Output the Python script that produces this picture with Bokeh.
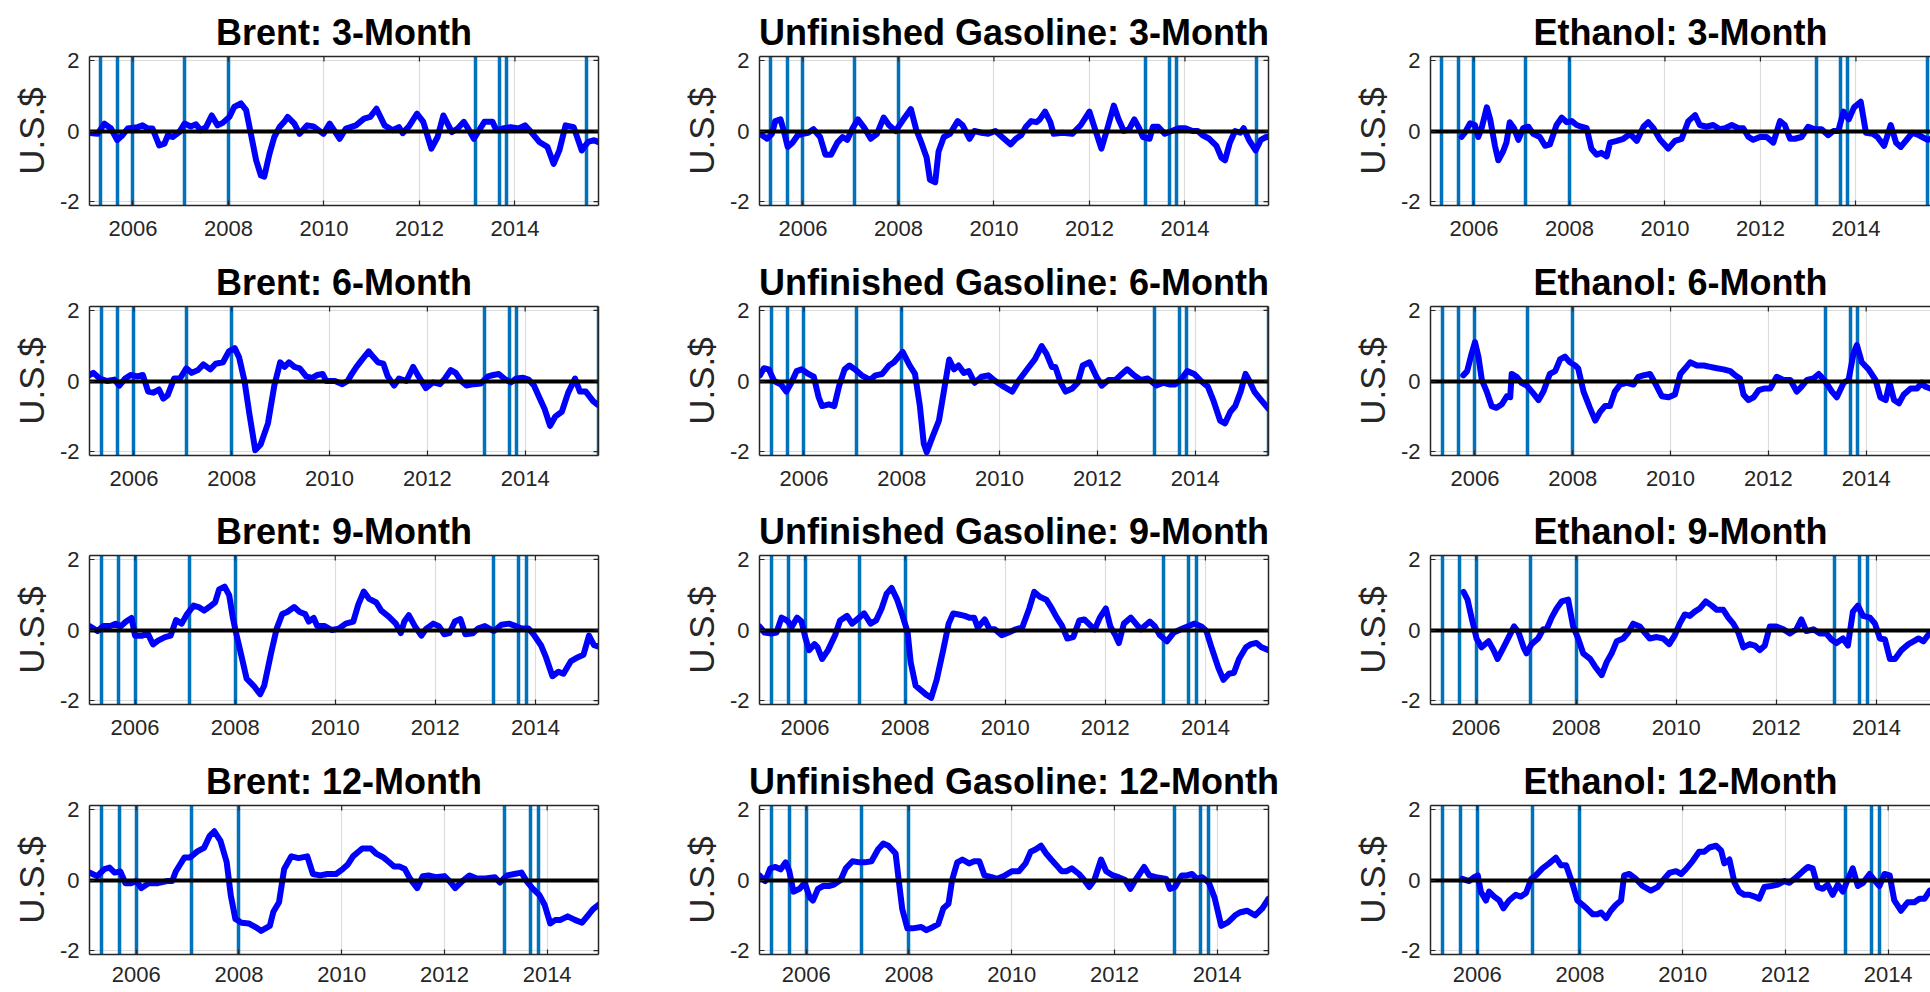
from bokeh.plotting import figure
from bokeh.models import FixedTicker, LinearAxis, Range1d
from bokeh.layouts import column, row
from bokeh.embed import file_html
from bokeh.resources import INLINE

# ---------------- data (year, U.S.$) ----------------
commodities = ["Brent", "Unfinished Gasoline", "Ethanol"]
horizons = ["3-Month", "6-Month", "9-Month", "12-Month"]
x_start = 2005.09
x_end = [2015.75, 2015.5, 2015.26, 2015.0]
events = [2005.33, 2005.67, 2006.0, 2007.08, 2008.0, 2013.17, 2013.67, 2013.83, 2015.5]
x_ticks = [2006, 2008, 2010, 2012, 2014]
x_tick_labels = ["2006", "2008", "2010", "2012", "2014"]
y_ticks = [-2, 0, 2]
y_tick_labels = ["-2", "0", "2"]

brent_3m = [(2005.10,-0.06),(2005.26,-0.08),(2005.40,0.21),(2005.54,0.07),(2005.67,-0.26),(2005.78,-0.12),(2005.89,0.07),(2006.10,0.11),(2006.20,0.16),(2006.31,0.07),(2006.41,0.07),(2006.55,-0.41),(2006.66,-0.36),(2006.73,-0.12),(2006.83,-0.17),(2006.97,-0.03),(2007.08,0.21),(2007.21,0.13),(2007.32,0.19),(2007.42,0.02),(2007.53,0.11),(2007.65,0.44),(2007.77,0.16),(2007.88,0.23),(2008.02,0.40),(2008.12,0.68),(2008.26,0.78),(2008.37,0.59),(2008.47,-0.08),(2008.58,-0.83),(2008.68,-1.26),(2008.75,-1.29),(2008.86,-0.64),(2008.96,-0.17),(2009.07,0.11),(2009.17,0.26),(2009.24,0.40),(2009.38,0.21),(2009.49,-0.08),(2009.65,0.16),(2009.78,0.13),(2009.99,-0.08),(2010.12,0.21),(2010.33,-0.22),(2010.46,0.07),(2010.67,0.16),(2010.84,0.35),(2010.97,0.40),(2011.10,0.63),(2011.27,0.16),(2011.44,0.02),(2011.57,0.11),(2011.65,-0.06),(2011.78,0.13),(2011.95,0.49),(2012.08,0.26),(2012.25,-0.50),(2012.38,-0.17),(2012.50,0.44),(2012.68,-0.03),(2012.80,0.07),(2012.93,0.26),(2013.02,0.07),(2013.14,-0.22),(2013.36,0.26),(2013.53,0.26),(2013.61,0.02),(2013.74,0.07),(2013.91,0.11),(2014.08,0.07),(2014.21,0.16),(2014.34,-0.03),(2014.51,-0.31),(2014.68,-0.45),(2014.81,-0.93),(2014.93,-0.55),(2015.06,0.16),(2015.23,0.11),(2015.40,-0.55),(2015.53,-0.31),(2015.66,-0.26),(2015.74,-0.31)]

brent_6m = [(2005.09,0.17),(2005.17,0.23),(2005.30,0.07),(2005.45,0.00),(2005.60,0.04),(2005.70,-0.13),(2005.82,0.07),(2005.93,0.17),(2006.07,0.13),(2006.18,0.17),(2006.29,-0.30),(2006.40,-0.33),(2006.51,-0.24),(2006.60,-0.50),(2006.69,-0.40),(2006.82,0.07),(2006.94,0.07),(2007.07,0.36),(2007.18,0.23),(2007.31,0.31),(2007.42,0.47),(2007.56,0.33),(2007.67,0.49),(2007.82,0.53),(2007.94,0.84),(2008.06,0.93),(2008.15,0.67),(2008.26,0.00),(2008.36,-0.93),(2008.48,-1.96),(2008.59,-1.80),(2008.74,-1.20),(2008.87,-0.13),(2008.99,0.53),(2009.08,0.40),(2009.17,0.53),(2009.28,0.40),(2009.39,0.36),(2009.52,0.13),(2009.64,0.09),(2009.75,0.17),(2009.86,0.20),(2009.93,0.00),(2010.11,0.00),(2010.26,-0.09),(2010.37,0.00),(2010.44,0.17),(2010.55,0.40),(2010.66,0.60),(2010.80,0.84),(2010.90,0.67),(2010.99,0.53),(2011.10,0.49),(2011.19,0.13),(2011.32,-0.13),(2011.42,0.07),(2011.57,0.00),(2011.71,0.40),(2011.82,0.13),(2011.97,-0.20),(2012.11,-0.04),(2012.26,-0.09),(2012.37,0.09),(2012.48,0.31),(2012.58,0.23),(2012.69,0.00),(2012.80,-0.13),(2012.95,-0.09),(2013.09,-0.07),(2013.24,0.13),(2013.35,0.17),(2013.46,0.20),(2013.57,0.07),(2013.71,-0.04),(2013.82,0.07),(2013.96,0.09),(2014.07,0.04),(2014.18,-0.13),(2014.29,-0.47),(2014.40,-0.80),(2014.51,-1.27),(2014.62,-1.00),(2014.75,-0.87),(2014.88,-0.33),(2015.02,0.07),(2015.12,-0.30),(2015.24,-0.30),(2015.39,-0.57),(2015.48,-0.67)]

brent_9m = [(2005.09,0.11),(2005.25,-0.03),(2005.36,0.11),(2005.50,0.11),(2005.61,0.18),(2005.72,0.11),(2005.82,0.24),(2005.93,0.34),(2006.00,-0.16),(2006.14,-0.16),(2006.25,-0.09),(2006.36,-0.41),(2006.46,-0.30),(2006.60,-0.20),(2006.71,-0.16),(2006.82,0.28),(2006.93,0.18),(2007.04,0.45),(2007.17,0.69),(2007.27,0.65),(2007.38,0.55),(2007.48,0.65),(2007.60,0.78),(2007.68,1.15),(2007.79,1.23),(2007.88,0.99),(2007.95,0.38),(2008.01,-0.03),(2008.12,-0.70),(2008.23,-1.38),(2008.37,-1.58),(2008.50,-1.82),(2008.58,-1.58),(2008.72,-0.64),(2008.83,0.04),(2008.94,0.45),(2009.04,0.51),(2009.18,0.65),(2009.29,0.51),(2009.40,0.45),(2009.47,0.24),(2009.57,0.34),(2009.64,0.11),(2009.79,0.11),(2009.93,0.00),(2010.07,0.04),(2010.21,0.18),(2010.36,0.24),(2010.46,0.72),(2010.57,1.09),(2010.68,0.88),(2010.82,0.78),(2010.92,0.55),(2011.07,0.38),(2011.21,0.18),(2011.31,-0.09),(2011.38,0.24),(2011.47,0.42),(2011.59,0.11),(2011.72,-0.16),(2011.82,0.04),(2011.96,0.18),(2012.07,0.11),(2012.18,-0.12),(2012.28,-0.09),(2012.39,0.24),(2012.50,0.31),(2012.60,-0.12),(2012.75,-0.09),(2012.85,0.04),(2012.99,0.11),(2013.17,-0.03),(2013.32,0.15),(2013.47,0.18),(2013.61,0.11),(2013.72,0.04),(2013.86,0.04),(2013.96,-0.12),(2014.11,-0.43),(2014.21,-0.77),(2014.34,-1.31),(2014.46,-1.18),(2014.56,-1.24),(2014.71,-0.88),(2014.85,-0.77),(2014.96,-0.70),(2015.07,-0.16),(2015.17,-0.43),(2015.26,-0.47)]

brent_12m = [(2005.09,0.21),(2005.24,0.11),(2005.38,0.31),(2005.48,0.35),(2005.58,0.21),(2005.69,0.24),(2005.79,-0.09),(2005.90,-0.09),(2006.00,-0.03),(2006.10,-0.23),(2006.24,-0.09),(2006.42,-0.09),(2006.60,-0.03),(2006.70,-0.03),(2006.77,0.24),(2006.94,0.64),(2007.05,0.64),(2007.19,0.81),(2007.32,0.91),(2007.43,1.25),(2007.52,1.38),(2007.64,1.11),(2007.76,0.51),(2007.84,-0.43),(2007.93,-1.10),(2008.05,-1.21),(2008.19,-1.23),(2008.33,-1.34),(2008.43,-1.44),(2008.60,-1.30),(2008.67,-0.90),(2008.78,-0.63),(2008.88,0.31),(2009.02,0.67),(2009.16,0.62),(2009.33,0.67),(2009.44,0.17),(2009.58,0.13),(2009.72,0.17),(2009.89,0.17),(2010.02,0.31),(2010.12,0.44),(2010.22,0.67),(2010.40,0.89),(2010.57,0.89),(2010.67,0.75),(2010.81,0.64),(2010.92,0.51),(2011.02,0.38),(2011.13,0.38),(2011.23,0.31),(2011.33,0.04),(2011.47,-0.23),(2011.58,0.11),(2011.69,0.13),(2011.83,0.08),(2012.00,0.11),(2012.10,-0.03),(2012.21,-0.23),(2012.35,-0.03),(2012.49,0.13),(2012.63,0.04),(2012.80,0.04),(2012.98,0.08),(2013.08,-0.07),(2013.22,0.13),(2013.36,0.17),(2013.50,0.21),(2013.60,-0.03),(2013.71,-0.23),(2013.85,-0.43),(2013.95,-0.70),(2014.06,-1.23),(2014.16,-1.13),(2014.26,-1.13),(2014.40,-1.03),(2014.54,-1.13),(2014.68,-1.21),(2014.78,-1.03),(2014.89,-0.83),(2015.00,-0.70)]

gasoline_3m = [(2005.10,-0.08),(2005.25,-0.22),(2005.35,-0.08),(2005.42,0.28),(2005.53,0.33),(2005.60,0.00),(2005.68,-0.45),(2005.78,-0.33),(2005.89,-0.12),(2006.00,-0.08),(2006.11,-0.05),(2006.22,0.05),(2006.36,-0.17),(2006.47,-0.67),(2006.59,-0.67),(2006.72,-0.33),(2006.83,-0.17),(2006.93,-0.25),(2007.04,0.08),(2007.15,0.33),(2007.29,0.08),(2007.42,-0.22),(2007.55,-0.08),(2007.69,0.38),(2007.80,0.17),(2007.94,0.00),(2008.08,0.28),(2008.26,0.62),(2008.37,0.05),(2008.48,-0.33),(2008.59,-0.75),(2008.66,-1.38),(2008.77,-1.45),(2008.84,-0.58),(2008.95,-0.17),(2009.08,-0.08),(2009.24,0.28),(2009.34,0.17),(2009.49,-0.22),(2009.59,0.00),(2009.74,-0.05),(2009.88,-0.08),(2010.03,0.00),(2010.17,-0.17),(2010.35,-0.38),(2010.46,-0.22),(2010.57,-0.12),(2010.67,0.12),(2010.78,0.28),(2010.89,0.25),(2010.96,0.33),(2011.07,0.55),(2011.18,0.25),(2011.25,-0.08),(2011.43,-0.05),(2011.64,-0.08),(2011.82,0.17),(2012.00,0.55),(2012.11,0.08),(2012.25,-0.50),(2012.36,0.00),(2012.51,0.72),(2012.61,0.33),(2012.72,0.00),(2012.83,0.05),(2012.94,0.33),(2013.04,0.08),(2013.12,-0.17),(2013.26,-0.22),(2013.33,0.12),(2013.44,0.12),(2013.58,-0.08),(2013.72,0.00),(2013.87,0.08),(2014.01,0.08),(2014.16,0.00),(2014.27,0.00),(2014.37,-0.12),(2014.51,-0.22),(2014.66,-0.42),(2014.76,-0.75),(2014.84,-0.83),(2014.94,-0.33),(2015.05,0.00),(2015.16,-0.05),(2015.23,0.08),(2015.34,-0.25),(2015.48,-0.55),(2015.59,-0.25),(2015.70,-0.17),(2015.75,-0.17)]

gasoline_6m = [(2005.10,0.16),(2005.18,0.36),(2005.28,0.33),(2005.39,0.00),(2005.53,-0.10),(2005.64,-0.30),(2005.74,-0.05),(2005.85,0.28),(2005.95,0.33),(2006.09,0.20),(2006.20,0.12),(2006.30,-0.46),(2006.37,-0.71),(2006.51,-0.66),(2006.62,-0.71),(2006.72,-0.13),(2006.83,0.33),(2006.93,0.44),(2007.04,0.33),(2007.18,0.16),(2007.35,0.03),(2007.46,0.16),(2007.60,0.20),(2007.74,0.44),(2007.84,0.53),(2008.02,0.82),(2008.16,0.44),(2008.27,0.20),(2008.37,-0.71),(2008.45,-1.78),(2008.51,-2.02),(2008.62,-1.61),(2008.76,-1.12),(2008.86,-0.30),(2008.97,0.61),(2009.07,0.33),(2009.16,0.44),(2009.27,0.23),(2009.37,0.28),(2009.49,-0.05),(2009.63,0.12),(2009.77,0.16),(2009.91,0.00),(2010.05,-0.13),(2010.26,-0.30),(2010.40,0.03),(2010.58,0.36),(2010.72,0.61),(2010.86,0.99),(2010.96,0.77),(2011.07,0.40),(2011.14,0.40),(2011.25,-0.05),(2011.35,-0.30),(2011.49,-0.21),(2011.60,-0.05),(2011.70,0.44),(2011.84,0.53),(2011.98,0.12),(2012.09,-0.13),(2012.23,0.03),(2012.37,0.03),(2012.47,0.16),(2012.61,0.33),(2012.75,0.16),(2012.89,0.03),(2013.03,0.07),(2013.21,-0.13),(2013.35,-0.05),(2013.49,-0.10),(2013.59,-0.10),(2013.70,0.03),(2013.84,0.28),(2013.98,0.20),(2014.12,0.00),(2014.26,-0.16),(2014.37,-0.54),(2014.51,-1.12),(2014.61,-1.20),(2014.72,-0.87),(2014.82,-0.71),(2014.93,-0.30),(2015.03,0.20),(2015.10,0.03),(2015.21,-0.30),(2015.35,-0.54),(2015.50,-0.79)]

gasoline_9m = [(2005.09,0.10),(2005.19,-0.07),(2005.33,-0.10),(2005.43,-0.07),(2005.53,0.35),(2005.64,0.27),(2005.74,0.10),(2005.84,0.35),(2005.93,0.24),(2006.01,-0.24),(2006.08,-0.57),(2006.19,-0.40),(2006.25,-0.49),(2006.34,-0.82),(2006.46,-0.57),(2006.60,-0.15),(2006.70,0.27),(2006.84,0.40),(2006.94,0.18),(2007.08,0.35),(2007.18,0.47),(2007.31,0.18),(2007.42,0.27),(2007.53,0.61),(2007.63,1.03),(2007.73,1.19),(2007.84,0.86),(2007.94,0.44),(2008.05,-0.07),(2008.11,-0.91),(2008.21,-1.58),(2008.32,-1.71),(2008.42,-1.83),(2008.52,-1.92),(2008.63,-1.41),(2008.76,-0.57),(2008.87,0.18),(2008.96,0.47),(2009.07,0.44),(2009.19,0.40),(2009.28,0.35),(2009.38,0.35),(2009.45,0.07),(2009.59,0.30),(2009.69,0.02),(2009.79,0.02),(2009.93,-0.15),(2010.07,-0.07),(2010.21,0.02),(2010.34,0.07),(2010.48,0.61),(2010.58,1.08),(2010.69,0.94),(2010.82,0.86),(2010.93,0.61),(2011.03,0.35),(2011.13,0.13),(2011.24,-0.24),(2011.36,-0.20),(2011.48,0.27),(2011.58,0.30),(2011.72,0.10),(2011.79,0.02),(2011.89,0.35),(2012.01,0.61),(2012.10,0.10),(2012.20,-0.15),(2012.27,-0.37),(2012.37,0.18),(2012.51,0.35),(2012.61,0.18),(2012.71,0.02),(2012.89,0.24),(2012.99,0.10),(2013.09,-0.15),(2013.23,-0.32),(2013.37,-0.07),(2013.51,0.02),(2013.64,0.10),(2013.78,0.18),(2013.92,0.10),(2014.02,-0.03),(2014.12,-0.49),(2014.26,-1.08),(2014.36,-1.41),(2014.47,-1.24),(2014.57,-1.21),(2014.67,-0.82),(2014.81,-0.49),(2014.91,-0.40),(2015.02,-0.37),(2015.12,-0.49),(2015.26,-0.57)]

gasoline_12m = [(2005.09,0.13),(2005.20,-0.03),(2005.30,0.33),(2005.40,0.37),(2005.50,0.30),(2005.60,0.50),(2005.67,0.25),(2005.75,-0.33),(2005.87,-0.25),(2005.97,-0.08),(2006.07,-0.50),(2006.13,-0.58),(2006.23,-0.25),(2006.33,-0.17),(2006.44,-0.17),(2006.54,-0.13),(2006.67,0.00),(2006.77,0.33),(2006.90,0.53),(2007.04,0.50),(2007.14,0.50),(2007.27,0.53),(2007.40,0.87),(2007.50,1.03),(2007.60,0.97),(2007.74,0.75),(2007.80,0.00),(2007.87,-0.83),(2007.97,-1.37),(2008.07,-1.37),(2008.24,-1.33),(2008.34,-1.42),(2008.47,-1.33),(2008.57,-1.25),(2008.67,-0.80),(2008.77,-0.67),(2008.84,0.00),(2008.94,0.50),(2009.04,0.58),(2009.17,0.47),(2009.27,0.53),(2009.37,0.53),(2009.47,0.13),(2009.61,0.08),(2009.71,0.03),(2009.87,0.13),(2010.01,0.25),(2010.14,0.25),(2010.27,0.47),(2010.37,0.80),(2010.47,0.87),(2010.57,0.97),(2010.67,0.75),(2010.77,0.58),(2010.87,0.42),(2010.97,0.25),(2011.07,0.25),(2011.17,0.33),(2011.31,0.17),(2011.41,0.00),(2011.51,-0.20),(2011.61,0.00),(2011.74,0.58),(2011.84,0.25),(2011.97,0.13),(2012.08,0.08),(2012.21,0.00),(2012.31,-0.25),(2012.41,0.00),(2012.58,0.37),(2012.68,0.13),(2012.81,0.08),(2013.01,0.03),(2013.08,-0.25),(2013.18,-0.20),(2013.31,0.13),(2013.41,0.13),(2013.51,0.17),(2013.61,0.03),(2013.71,0.08),(2013.84,-0.08),(2013.95,-0.50),(2014.08,-1.30),(2014.21,-1.20),(2014.35,-1.00),(2014.44,-0.92),(2014.58,-0.87),(2014.74,-1.00),(2014.88,-0.80),(2015.00,-0.53)]

ethanol_3m = [(2005.74,-0.17),(2005.81,-0.05),(2005.92,0.22),(2006.02,0.17),(2006.09,-0.17),(2006.16,0.08),(2006.27,0.67),(2006.34,0.33),(2006.44,-0.42),(2006.51,-0.83),(2006.61,-0.58),(2006.68,-0.33),(2006.75,0.25),(2006.84,0.08),(2006.93,-0.25),(2007.03,0.08),(2007.14,0.12),(2007.24,-0.08),(2007.38,-0.17),(2007.49,-0.42),(2007.59,-0.38),(2007.73,0.17),(2007.84,0.38),(2007.94,0.25),(2008.05,0.28),(2008.15,0.17),(2008.25,0.12),(2008.36,0.08),(2008.46,-0.50),(2008.57,-0.67),(2008.67,-0.62),(2008.78,-0.72),(2008.85,-0.33),(2008.99,-0.28),(2009.13,-0.22),(2009.27,-0.08),(2009.41,-0.28),(2009.55,0.12),(2009.65,0.25),(2009.76,0.08),(2009.90,-0.25),(2010.07,-0.50),(2010.21,-0.28),(2010.35,-0.22),(2010.49,0.28),(2010.63,0.45),(2010.73,0.17),(2010.87,0.12),(2011.01,0.17),(2011.15,0.05),(2011.26,0.08),(2011.40,0.17),(2011.54,0.08),(2011.64,0.08),(2011.75,-0.17),(2011.85,-0.25),(2011.99,-0.17),(2012.13,-0.17),(2012.27,-0.33),(2012.41,0.28),(2012.51,0.17),(2012.62,-0.22),(2012.72,-0.22),(2012.86,-0.17),(2013.00,0.12),(2013.14,0.05),(2013.28,0.05),(2013.42,-0.12),(2013.53,0.00),(2013.63,0.00),(2013.74,0.55),(2013.85,0.33),(2013.96,0.67),(2014.10,0.83),(2014.21,-0.05),(2014.35,-0.08),(2014.45,-0.17),(2014.59,-0.42),(2014.73,0.17),(2014.84,-0.33),(2014.94,-0.45),(2015.08,-0.22),(2015.18,-0.05),(2015.32,-0.12),(2015.50,-0.25),(2015.62,-0.20),(2015.75,-0.25)]

ethanol_6m = [(2005.76,0.16),(2005.84,0.28),(2005.93,0.77),(2006.00,1.10),(2006.07,0.69),(2006.14,0.03),(2006.24,-0.30),(2006.34,-0.71),(2006.44,-0.76),(2006.55,-0.66),(2006.65,-0.43),(2006.72,-0.46),(2006.75,0.20),(2006.85,0.12),(2006.95,-0.05),(2007.06,-0.13),(2007.18,-0.33),(2007.30,-0.54),(2007.40,-0.30),(2007.53,0.20),(2007.64,0.28),(2007.74,0.61),(2007.84,0.69),(2007.94,0.53),(2008.05,0.44),(2008.11,0.36),(2008.22,-0.30),(2008.35,-0.76),(2008.46,-1.12),(2008.56,-0.87),(2008.66,-0.71),(2008.76,-0.71),(2008.86,-0.30),(2008.97,-0.10),(2009.10,-0.05),(2009.24,-0.10),(2009.34,0.12),(2009.44,0.16),(2009.58,0.20),(2009.68,-0.05),(2009.82,-0.43),(2009.96,-0.46),(2010.09,-0.38),(2010.20,0.20),(2010.30,0.36),(2010.40,0.53),(2010.54,0.44),(2010.68,0.44),(2010.81,0.40),(2010.95,0.36),(2011.08,0.33),(2011.22,0.28),(2011.32,0.16),(2011.42,0.07),(2011.49,-0.38),(2011.59,-0.54),(2011.70,-0.46),(2011.80,-0.26),(2011.93,-0.21),(2012.04,-0.21),(2012.17,0.12),(2012.31,0.03),(2012.45,0.03),(2012.58,-0.30),(2012.68,-0.16),(2012.79,0.03),(2012.92,0.07),(2013.03,0.20),(2013.16,0.00),(2013.30,-0.30),(2013.40,-0.46),(2013.54,-0.05),(2013.64,0.03),(2013.74,0.77),(2013.81,1.02),(2013.91,0.53),(2014.05,0.33),(2014.19,0.03),(2014.29,-0.46),(2014.40,-0.54),(2014.48,-0.05),(2014.57,-0.54),(2014.67,-0.63),(2014.77,-0.38),(2014.91,-0.21),(2015.04,-0.21),(2015.14,-0.05),(2015.21,-0.16),(2015.31,-0.21),(2015.50,-0.25)]

ethanol_9m = [(2005.75,1.08),(2005.83,0.86),(2005.91,0.35),(2006.01,-0.24),(2006.11,-0.49),(2006.25,-0.32),(2006.35,-0.57),(2006.43,-0.82),(2006.55,-0.49),(2006.67,-0.15),(2006.76,0.10),(2006.85,-0.07),(2006.95,-0.49),(2007.01,-0.66),(2007.11,-0.40),(2007.24,-0.24),(2007.34,0.02),(2007.41,0.02),(2007.51,0.35),(2007.61,0.61),(2007.71,0.81),(2007.84,0.86),(2007.94,0.10),(2008.04,-0.24),(2008.14,-0.66),(2008.28,-0.82),(2008.38,-1.04),(2008.51,-1.28),(2008.61,-0.91),(2008.71,-0.66),(2008.81,-0.32),(2008.94,-0.24),(2009.04,-0.07),(2009.14,0.18),(2009.27,0.10),(2009.37,-0.07),(2009.47,-0.24),(2009.61,-0.20),(2009.74,-0.24),(2009.86,-0.40),(2009.97,-0.15),(2010.07,0.18),(2010.17,0.44),(2010.27,0.40),(2010.37,0.52),(2010.47,0.61),(2010.59,0.81),(2010.71,0.69),(2010.81,0.57),(2010.94,0.57),(2011.04,0.35),(2011.14,0.18),(2011.24,-0.07),(2011.34,-0.49),(2011.47,-0.40),(2011.57,-0.44),(2011.67,-0.57),(2011.77,-0.44),(2011.87,0.10),(2012.00,0.10),(2012.14,0.02),(2012.27,-0.10),(2012.40,0.02),(2012.50,0.30),(2012.60,-0.03),(2012.74,0.02),(2012.87,-0.10),(2013.00,-0.10),(2013.10,-0.27),(2013.20,-0.37),(2013.33,-0.24),(2013.43,-0.44),(2013.53,0.52),(2013.63,0.69),(2013.73,0.40),(2013.87,0.35),(2013.97,0.18),(2014.07,-0.24),(2014.17,-0.27),(2014.27,-0.82),(2014.37,-0.82),(2014.50,-0.57),(2014.64,-0.40),(2014.74,-0.32),(2014.84,-0.24),(2014.94,-0.32),(2015.07,-0.07),(2015.26,0.05)]

ethanol_12m = [(2005.71,0.03),(2005.84,-0.03),(2005.94,0.08),(2006.01,0.13),(2006.07,-0.33),(2006.17,-0.58),(2006.23,-0.33),(2006.33,-0.47),(2006.43,-0.58),(2006.51,-0.80),(2006.62,-0.58),(2006.75,-0.42),(2006.85,-0.47),(2006.95,-0.37),(2007.05,0.03),(2007.14,0.13),(2007.27,0.33),(2007.40,0.47),(2007.53,0.63),(2007.63,0.42),(2007.73,0.42),(2007.86,-0.13),(2007.95,-0.58),(2008.05,-0.70),(2008.15,-0.83),(2008.25,-0.97),(2008.34,-0.97),(2008.41,-0.92),(2008.51,-1.08),(2008.60,-0.87),(2008.70,-0.70),(2008.80,-0.58),(2008.86,0.13),(2008.96,0.17),(2009.09,0.03),(2009.22,-0.17),(2009.38,-0.30),(2009.51,-0.20),(2009.64,0.03),(2009.74,0.20),(2009.87,0.25),(2009.97,0.17),(2010.06,0.30),(2010.19,0.53),(2010.32,0.80),(2010.42,0.80),(2010.52,0.92),(2010.65,0.97),(2010.75,0.83),(2010.81,0.47),(2010.91,0.58),(2011.01,-0.08),(2011.10,-0.33),(2011.20,-0.42),(2011.30,-0.42),(2011.40,-0.47),(2011.49,-0.53),(2011.59,-0.20),(2011.72,-0.17),(2011.85,-0.13),(2011.98,-0.03),(2012.08,-0.08),(2012.21,0.08),(2012.34,0.25),(2012.44,0.37),(2012.53,0.33),(2012.63,-0.20),(2012.73,-0.25),(2012.82,-0.13),(2012.92,-0.42),(2013.02,-0.13),(2013.12,-0.33),(2013.21,0.00),(2013.31,0.33),(2013.41,-0.17),(2013.51,-0.08),(2013.64,0.17),(2013.73,0.00),(2013.83,-0.17),(2013.93,0.17),(2014.03,0.13),(2014.12,-0.58),(2014.25,-0.87),(2014.38,-0.63),(2014.51,-0.63),(2014.61,-0.53),(2014.71,-0.53),(2014.81,-0.30),(2015.00,-0.20)]

series = {
    ("Brent", "3-Month"): brent_3m, ("Brent", "6-Month"): brent_6m,
    ("Brent", "9-Month"): brent_9m, ("Brent", "12-Month"): brent_12m,
    ("Unfinished Gasoline", "3-Month"): gasoline_3m, ("Unfinished Gasoline", "6-Month"): gasoline_6m,
    ("Unfinished Gasoline", "9-Month"): gasoline_9m, ("Unfinished Gasoline", "12-Month"): gasoline_12m,
    ("Ethanol", "3-Month"): ethanol_3m, ("Ethanol", "6-Month"): ethanol_6m,
    ("Ethanol", "9-Month"): ethanol_9m, ("Ethanol", "12-Month"): ethanol_12m,
}

# ---------------- styling / layout ----------------
FONT = "Liberation Sans"
AX = "#262626"
GRID = "#dcdcdc"
LINE_BLUE = "#0000FF"
EVENT_BLUE = "#0072BD"
Y_LIM = 2.11
TICK_PX = 5

FW, FH = 509, 149                      # full axes size
LEFTS = [89, 81, 81]                   # left borders per column
RIGHTS = [80, 81, 0]                   # right borders per column
FWS = [FW, FW, 1930 - (89 + FW + 80) - (81 + FW + 81) - 81]  # last column clipped at window edge
TOPS = [56, 51, 51, 51]
BOTTOMS = [50, 49, 50, 38]
X_STANDOFF = [15, 15, 15, 12]


def style_axis(ax, labels=True):
    ax.axis_line_color = AX
    ax.axis_line_width = 1.5
    ax.major_tick_line_color = AX
    ax.major_tick_line_width = 1.2
    ax.major_tick_in = TICK_PX
    ax.major_tick_out = 0
    ax.minor_tick_line_color = None
    if labels:
        ax.major_label_text_font = FONT
        ax.major_label_text_color = AX
        ax.major_label_text_font_size = "22px"
    else:
        ax.major_label_standoff = 0


def make_panel(ci, ri):
    name, hor = commodities[ci], horizons[ri]
    pts = series[(name, hor)]
    last = ci == 2
    fw = FWS[ci]
    width = LEFTS[ci] + fw + RIGHTS[ci]
    height = TOPS[ri] + FH + BOTTOMS[ri]
    x1 = x_start + (x_end[ri] - x_start) * fw / FW
    p = figure(width=width, height=height,
               x_range=Range1d(x_start, x1), y_range=Range1d(-Y_LIM, Y_LIM),
               output_backend="svg", toolbar_location=None,
               min_border_left=LEFTS[ci], min_border_right=RIGHTS[ci],
               min_border_top=TOPS[ri], min_border_bottom=BOTTOMS[ri],
               outline_line_color=None, background_fill_color="white",
               border_fill_color="white", title=f"{name}: {hor}")
    p.title.text_font = FONT
    p.title.text_font_size = "36px"
    p.title.text_font_style = "bold"
    p.title.text_color = "#000000"
    p.title.align = "center"
    p.title.standoff = 7
    if last:
        p.title.offset = (FW - fw) / 2

    xt = FixedTicker(ticks=x_ticks)
    yt = FixedTicker(ticks=y_ticks)
    xa = p.xaxis[0]
    ya = p.yaxis[0]
    xa.ticker = xt
    ya.ticker = yt
    xa.major_label_overrides = dict(zip(x_ticks, x_tick_labels))
    ya.major_label_overrides = dict(zip(y_ticks, y_tick_labels))
    style_axis(xa)
    style_axis(ya)
    xa.major_label_standoff = X_STANDOFF[ri]
    ya.major_label_standoff = 10
    ya.axis_label = "U.S.$"
    ya.axis_label_text_font = FONT
    ya.axis_label_text_font_size = "35px"
    ya.axis_label_text_font_style = "normal"
    ya.axis_label_text_color = AX
    ya.axis_label_standoff = 6

    # box edges (no labels)
    top = LinearAxis(ticker=FixedTicker(ticks=[]))
    style_axis(top, labels=False)
    p.add_layout(top, "above")
    if not last:
        right = LinearAxis(ticker=FixedTicker(ticks=[]))
        style_axis(right, labels=False)
        p.add_layout(right, "right")

    p.xgrid.ticker = xt
    p.ygrid.ticker = yt
    for g in (p.xgrid, p.ygrid):
        g.grid_line_color = GRID
        g.grid_line_width = 1.2

    visible_events = [e for e in events if x_start <= e <= x_end[ri]]
    p.vspan(x=visible_events, line_color=EVENT_BLUE, line_width=3.5)
    xs = [t for t, v in pts]
    ys = [v for t, v in pts]
    p.line(xs, ys, line_color=LINE_BLUE, line_width=6, line_join="round", line_cap="round")
    p.hspan(y=[0], line_color="black", line_width=4)

    # inward tick marks on the top and right box edges
    dy = TICK_PX * (2 * Y_LIM) / FH
    p.segment(x0=x_ticks, x1=x_ticks, y0=[Y_LIM] * len(x_ticks),
              y1=[Y_LIM - dy] * len(x_ticks), line_color=AX, line_width=1.2)
    if not last:
        dx = TICK_PX * (x1 - x_start) / fw
        p.segment(x0=[x1 - dx] * len(y_ticks), x1=[x1] * len(y_ticks),
                  y0=y_ticks, y1=y_ticks, line_color=AX, line_width=1.2)
    return p


rows = []
for ri in range(4):
    rows.append(row(*[make_panel(ci, ri) for ci in range(3)]))
layout = column(*rows)

open("out.html", "w").write(file_html(layout, INLINE))
